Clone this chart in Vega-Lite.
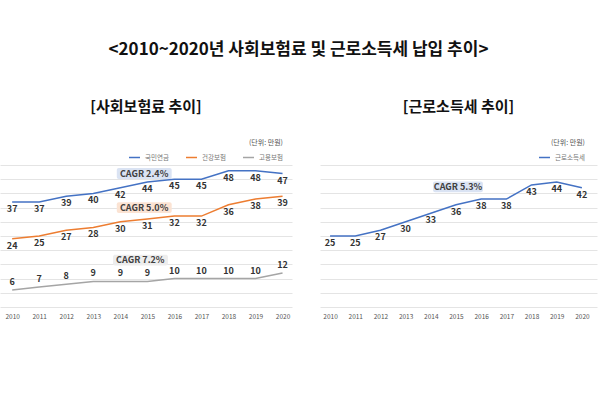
{
  "$schema": "https://vega.github.io/schema/vega-lite/v6.json",
  "padding": {"left": 0, "right": 3, "top": 41, "bottom": 0},
  "spacing": 28,
  "title": {"text": "<2010~2020년 사회보험료 및 근로소득세 납입 추이>", "fontSize": 17, "fontWeight": "bold", "anchor": "middle", "color": "#111111", "offset": 41},
  "resolve": {"scale": {"color": "independent"}, "legend": {"color": "independent"}},
  "config": {
    "font": "Noto Sans CJK KR",
    "view": {"stroke": null},
    "title": {"font": "Noto Sans CJK KR"},
    "axisX": {"grid": false, "domain": false, "ticks": false, "labelFontSize": 6.5, "labelColor": "#555555", "format": "d", "title": null, "labelPadding": 6, "labelOverlap": false},
    "axisY": {"grid": true, "gridColor": "#E4E4E4", "domain": false, "ticks": false, "labels": false, "title": null},
    "legend": {"orient": "none", "direction": "horizontal", "titleAnchor": "end", "titleFontSize": 7, "titleFontWeight": "normal", "titleColor": "#555555", "labelFontSize": 6.5, "labelColor": "#777777", "symbolType": "stroke", "symbolStrokeWidth": 1.5, "symbolSize": 120, "columnPadding": 14, "titlePadding": 5}
  },
  "datasets": {
    "social": [
      {"series": "국민연금", "year": 2010, "value": 37}, {"series": "국민연금", "year": 2011, "value": 37}, {"series": "국민연금", "year": 2012, "value": 39}, {"series": "국민연금", "year": 2013, "value": 40}, {"series": "국민연금", "year": 2014, "value": 42}, {"series": "국민연금", "year": 2015, "value": 44}, {"series": "국민연금", "year": 2016, "value": 45}, {"series": "국민연금", "year": 2017, "value": 45}, {"series": "국민연금", "year": 2018, "value": 48}, {"series": "국민연금", "year": 2019, "value": 48}, {"series": "국민연금", "year": 2020, "value": 47},
      {"series": "건강보험", "year": 2010, "value": 24}, {"series": "건강보험", "year": 2011, "value": 25}, {"series": "건강보험", "year": 2012, "value": 27}, {"series": "건강보험", "year": 2013, "value": 28}, {"series": "건강보험", "year": 2014, "value": 30}, {"series": "건강보험", "year": 2015, "value": 31}, {"series": "건강보험", "year": 2016, "value": 32}, {"series": "건강보험", "year": 2017, "value": 32}, {"series": "건강보험", "year": 2018, "value": 36}, {"series": "건강보험", "year": 2019, "value": 38}, {"series": "건강보험", "year": 2020, "value": 39},
      {"series": "고용보험", "year": 2010, "value": 6}, {"series": "고용보험", "year": 2011, "value": 7}, {"series": "고용보험", "year": 2012, "value": 8}, {"series": "고용보험", "year": 2013, "value": 9}, {"series": "고용보험", "year": 2014, "value": 9}, {"series": "고용보험", "year": 2015, "value": 9}, {"series": "고용보험", "year": 2016, "value": 10}, {"series": "고용보험", "year": 2017, "value": 10}, {"series": "고용보험", "year": 2018, "value": 10}, {"series": "고용보험", "year": 2019, "value": 10}, {"series": "고용보험", "year": 2020, "value": 12}
    ],
    "income": [
      {"series": "근로소득세", "year": 2010, "value": 25}, {"series": "근로소득세", "year": 2011, "value": 25}, {"series": "근로소득세", "year": 2012, "value": 27}, {"series": "근로소득세", "year": 2013, "value": 30}, {"series": "근로소득세", "year": 2014, "value": 33}, {"series": "근로소득세", "year": 2015, "value": 36}, {"series": "근로소득세", "year": 2016, "value": 38}, {"series": "근로소득세", "year": 2017, "value": 38}, {"series": "근로소득세", "year": 2018, "value": 43}, {"series": "근로소득세", "year": 2019, "value": 44}, {"series": "근로소득세", "year": 2020, "value": 42}
    ],
    "cagrSocial": [
      {"series": "국민연금", "label": "CAGR 2.4%", "start": 2013.87, "end": 2015.9, "mid": 2014.88, "low": 45.1, "high": 48.9, "center": 47.0},
      {"series": "건강보험", "label": "CAGR 5.0%", "start": 2013.87, "end": 2015.9, "mid": 2014.88, "low": 33.1, "high": 36.9, "center": 35.0},
      {"series": "고용보험", "label": "CAGR 7.2%", "start": 2013.73, "end": 2015.76, "mid": 2014.74, "low": 14.6, "high": 18.4, "center": 16.5}
    ],
    "cagrIncome": [
      {"series": "근로소득세", "label": "CAGR 5.3%", "start": 2014.09, "end": 2016.07, "mid": 2015.08, "low": 40.4, "high": 44.2, "center": 42.3}
    ]
  },
  "hconcat": [
    {
      "width": 292,
      "height": 142,
      "title": {"text": "[사회보험료 추이]", "fontSize": 15, "fontWeight": "bold", "color": "#111111", "offset": 24},
      "encoding": {
        "x": {"type": "quantitative", "scale": {"domain": [2009.55, 2020.35], "nice": false, "zero": false}, "axis": {"values": [2010, 2011, 2012, 2013, 2014, 2015, 2016, 2017, 2018, 2019, 2020]}},
        "y": {"type": "quantitative", "scale": {"domain": [0, 50], "nice": false}, "axis": {"values": [0, 5, 10, 15, 20, 25, 30, 35, 40, 45, 50]}}
      },
      "layer": [
        {
          "data": {"name": "cagrSocial"},
          "transform": [{"filter": "datum.series === '국민연금'"}],
          "mark": {"type": "rect", "cornerRadius": 2, "color": "#DAE3F3"},
          "encoding": {"x": {"field": "start", "type": "quantitative"}, "x2": {"field": "end"}, "y": {"field": "low", "type": "quantitative"}, "y2": {"field": "high"}}
        },
        {
          "data": {"name": "cagrSocial"},
          "transform": [{"filter": "datum.series === '건강보험'"}],
          "mark": {"type": "rect", "cornerRadius": 2, "color": "#FBE3D3"},
          "encoding": {"x": {"field": "start", "type": "quantitative"}, "x2": {"field": "end"}, "y": {"field": "low", "type": "quantitative"}, "y2": {"field": "high"}}
        },
        {
          "data": {"name": "cagrSocial"},
          "transform": [{"filter": "datum.series === '고용보험'"}],
          "mark": {"type": "rect", "cornerRadius": 2, "color": "#EDEDED"},
          "encoding": {"x": {"field": "start", "type": "quantitative"}, "x2": {"field": "end"}, "y": {"field": "low", "type": "quantitative"}, "y2": {"field": "high"}}
        },
        {
          "data": {"name": "cagrSocial"},
          "mark": {"type": "text", "fontSize": 9, "fontWeight": "bold", "color": "#404040"},
          "encoding": {"x": {"field": "mid", "type": "quantitative"}, "y": {"field": "center", "type": "quantitative"}, "text": {"field": "label"}}
        },
        {
          "data": {"name": "social"},
          "mark": {"type": "line", "strokeWidth": 1.5},
          "encoding": {
            "x": {"field": "year", "type": "quantitative"},
            "y": {"field": "value", "type": "quantitative"},
            "color": {"field": "series", "type": "nominal", "sort": ["국민연금", "건강보험", "고용보험"], "scale": {"domain": ["국민연금", "건강보험", "고용보험"], "range": ["#4472C4", "#ED7D31", "#A5A5A5"]},
              "legend": {"orient": "none", "legendX": 128, "legendY": -26, "title": "(단위: 만원)"}}
          }
        },
        {
          "data": {"name": "social"},
          "transform": [{"filter": "datum.series !== '고용보험'"}],
          "mark": {"type": "text", "fontSize": 9, "fontWeight": "bold", "color": "#333333", "dy": 7},
          "encoding": {"x": {"field": "year", "type": "quantitative"}, "y": {"field": "value", "type": "quantitative"}, "text": {"field": "value"}}
        },
        {
          "data": {"name": "social"},
          "transform": [{"filter": "datum.series === '고용보험'"}],
          "mark": {"type": "text", "fontSize": 9, "fontWeight": "bold", "color": "#333333", "dy": -8},
          "encoding": {"x": {"field": "year", "type": "quantitative"}, "y": {"field": "value", "type": "quantitative"}, "text": {"field": "value"}}
        }
      ]
    },
    {
      "width": 277,
      "height": 142,
      "title": {"text": "[근로소득세 추이]", "fontSize": 15, "fontWeight": "bold", "color": "#111111", "offset": 24},
      "encoding": {
        "x": {"type": "quantitative", "scale": {"domain": [2009.6, 2020.6], "nice": false, "zero": false}, "axis": {"values": [2010, 2011, 2012, 2013, 2014, 2015, 2016, 2017, 2018, 2019, 2020]}},
        "y": {"type": "quantitative", "scale": {"domain": [0, 50], "nice": false}, "axis": {"values": [0, 5, 10, 15, 20, 25, 30, 35, 40, 45, 50]}}
      },
      "layer": [
        {
          "data": {"name": "cagrIncome"},
          "mark": {"type": "rect", "cornerRadius": 2, "color": "#DAE3F3"},
          "encoding": {"x": {"field": "start", "type": "quantitative"}, "x2": {"field": "end"}, "y": {"field": "low", "type": "quantitative"}, "y2": {"field": "high"}}
        },
        {
          "data": {"name": "cagrIncome"},
          "mark": {"type": "text", "fontSize": 9, "fontWeight": "bold", "color": "#404040"},
          "encoding": {"x": {"field": "mid", "type": "quantitative"}, "y": {"field": "center", "type": "quantitative"}, "text": {"field": "label"}}
        },
        {
          "data": {"name": "income"},
          "mark": {"type": "line", "strokeWidth": 1.5},
          "encoding": {
            "x": {"field": "year", "type": "quantitative"},
            "y": {"field": "value", "type": "quantitative"},
            "color": {"field": "series", "type": "nominal", "scale": {"domain": ["근로소득세"], "range": ["#4472C4"]},
              "legend": {"orient": "none", "legendX": 218, "legendY": -26, "title": "(단위: 만원)"}}
          }
        },
        {
          "data": {"name": "income"},
          "mark": {"type": "text", "fontSize": 9, "fontWeight": "bold", "color": "#333333", "dy": 7},
          "encoding": {"x": {"field": "year", "type": "quantitative"}, "y": {"field": "value", "type": "quantitative"}, "text": {"field": "value"}}
        }
      ]
    }
  ]
}
